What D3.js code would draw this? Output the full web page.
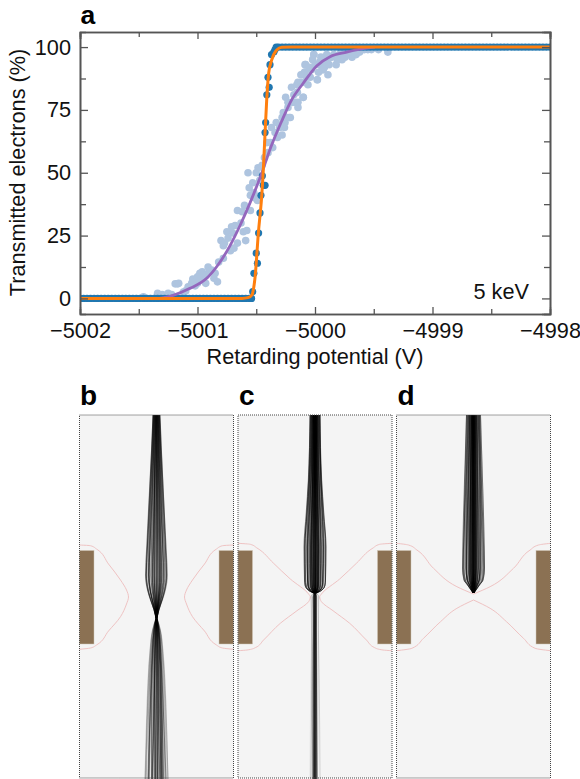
<!DOCTYPE html>
<html>
<head>
<meta charset="utf-8">
<script src="https://cdn.jsdelivr.net/npm/d3@7"></script>
<style>
  body { margin: 0; background: #fff; }
  text { font-family: "Liberation Sans", Arial, sans-serif; fill: #111; }
</style>
</head>
<body>
<div id="chart"></div>
<script>
// panel a: retarding potential offsets from -5000 V, transmission in %
const lightX = [-1.46,-1.34,-1.34,-1.25,-1.19,-1.17,-1.16,-1.12,-1.08,-1.05,-1.04,-1.0,-1.0,-0.98,-0.96,-0.95,-0.93,-0.91,-0.88,-0.85,-0.83,-0.82,-0.78,-0.8,-0.78,-0.77,-0.75,-0.72,-0.71,-0.7,-0.66,-0.66,-0.62,-0.61,-0.6,-0.59,-0.58,-0.55,-0.55,-0.53,-0.57,-0.51,-0.49,-0.485,-0.5,-0.45,-0.4,-0.41,-0.37,-0.34,-0.32,-0.3,-0.28,-0.24,-0.27,-0.23,-0.21,-0.28,-0.255,-0.23,-0.22,-0.2,-0.19,-0.17,-0.155,-0.145,-0.145,-0.145,-0.12,-0.1,-0.1,-0.1,-0.09,-0.085,-0.085,-0.08,-0.06,-0.04,-0.03,-0.01,-0.01,0,0.02,0.02,0.04,0.04,0.06,0.06,0.07,0.1,0.11,0.14,0.18,0.21,0.23,0.255,0.29,0.315,0.35,0.38,0.45,0.48,0.54,0.62,
  -1.3,-1.22,-1.1,-1.02,-0.97,-0.93,-0.9,-0.86,-0.74,-0.69,-0.68,-0.63,-0.56,-0.52,-0.47,-0.43,-0.38,-0.36,-0.33,-0.26,-0.25,-0.18,-0.15,-0.12,-0.07,-0.05,-0.02,0.03,0.05,0.08,0.09,0.12,0.13,0.16,0.19,0.22,0.27,0.31,0.42];
const lightY = [0.6,1,2,2,5.8,5.8,6,2.5,4.6,6,7.7,8.6,6,10,10.6,9.4,6,12.5,11.3,10,6.6,14.5,16,23,21,22,26.5,19,28.5,26,22,35,34.5,26.5,37,23,27,35,41,46,50,40,39,52,50,53,58,62,68,66,64,68,65,72,74,78,72,72,70,76,72,84,78,78,85,76,86,78,86,80,86,80,90,90,93,93,85,88,91,97,97,93,87,87,94,93,91,95,91,97,89,96,93,96,95,96,97,96,97,98,99,99,99,98,
  1.5,1.5,3,5,8,9,10.5,8,24,20,29,30,44,42,47,56,62,60,70,68,80,81,82,89,88,92,95,90,96,92,94,93,96,97,95,98,98,98,99];

const darkX = [-2,-1.97,-1.94,-1.91,-1.88,-1.85,-1.82,-1.79,-1.76,-1.73,-1.7,-1.67,-1.64,-1.61,-1.58,-1.55,-1.52,-1.49,-1.46,-1.43,-1.4,-1.37,-1.34,-1.31,-1.28,-1.25,-1.22,-1.19,-1.16,-1.13,-1.1,-1.07,-1.04,-1.01,-0.98,-0.95,-0.92,-0.89,-0.86,-0.83,-0.8,-0.77,-0.74,-0.71,-0.68,-0.65,-0.62,-0.59,-0.56,-0.54,
  -0.53,-0.52,-0.49,-0.5,-0.48,-0.468,-0.46,-0.44,-0.425,-0.448,-0.425,-0.42,-0.41,-0.39,-0.4,-0.383,-0.37,-0.35,-0.34,
  -0.33,-0.31,-0.28,-0.25,-0.22,-0.19,-0.16,-0.13,-0.1,-0.07,-0.04,-0.01,0.02,0.05,0.08,0.11,0.14,0.17,0.2,0.23,0.26,0.29,0.32,0.35,0.38,0.41,0.44,0.47,0.5,0.53,0.56,0.59,0.62,0.65,0.68,0.71,0.74,0.77,0.8,0.83,0.86,0.89,0.92,0.95,0.98,1.01,1.04,1.07,1.1,1.13,1.16,1.19,1.22,1.25,1.28,1.31,1.34,1.37,1.4,1.43,1.46,1.49,1.52,1.55,1.58,1.61,1.64,1.67,1.7,1.73,1.76,1.79,1.82,1.85,1.88,1.91,1.94,1.97,2];
const darkY = [0,0,0,0,0,0,0,0,0,0,0,0,0,0,0,0,0,0,0,0,0,0,0,0,0,0,0,0,0,0,0,0,0,0,0,0,0,0,0,0,0,0,0,0,0,0,0,0,0,0,
  2.7,10,14,18,26,34,41,45,45,48.8,66,70,81,84,88,93,97,98,99,
  100,100,100,100,100,100,100,100,100,100,100,100,100,100,100,100,100,100,100,100,100,100,100,100,100,100,100,100,100,100,100,100,100,100,100,100,100,100,100,100,100,100,100,100,100,100,100,100,100,100,100,100,100,100,100,100,100,100,100,100,100,100,100,100,100,100,100,100,100,100,100,100,100,100,100,100,100,100,100,100,100,100,100];

const orangeX = [-2,-0.62,-0.57,-0.536,-0.528,-0.51,-0.482,-0.454,-0.443,-0.425,-0.411,-0.394,-0.369,-0.326,-0.283,-0.2,2];
const orangeY = [0,0,0.3,1.4,2.7,8.5,26,40.4,48.3,65.8,79,89.7,94.8,98.8,99.9,100,100];
const purpleX = [-1.32,-1.208,-1.064,-0.922,-0.826,-0.723,-0.638,-0.553,-0.468,-0.369,-0.284,-0.199,-0.102,0.014,0.128,0.27,0.383,0.51];
const purpleY = [0,1.2,4,8,13.3,21,29,38,48,61,70.5,79,85.5,92.5,96.2,98,99.2,100];

const xMajor = [-5002,-5001,-5000,-4999,-4998];
const xMinor = [-5001.5,-5000.5,-4999.5,-4998.5];
const yMajor = [0,25,50,75,100];
const yMinor = [12.5,37.5,62.5,87.5];

// panels b, c, d: beam half widths and field line outlines, distance from the panel centre / top
const bBeamY = [0,35,85,135,160,175,185,195,203,215,235,265,305,364];
const bBeamW = [3.5,5,7.5,10,11,9,6,2.5,0.5,4,6.5,8.5,10,11.5];
const bFracTop = [-1,-0.94,-0.9,-0.82,-0.76,-0.71,-0.66,-0.58,-0.53,-0.47,-0.42,-0.36,-0.31,-0.27,-0.21,-0.17,-0.12,-0.08,-0.03,0.02,0.06,0.11,0.15,0.2,0.24,0.3,0.34,0.39,0.45,0.5,0.56,0.61,0.68,0.73,0.8,0.86,0.93,1];
const bFracBottom = [-1,-0.96,-0.9,-0.85,-0.78,-0.7,-0.64,-0.6,-0.52,-0.44,-0.38,-0.33,-0.25,-0.2,-0.14,-0.1,-0.05,0,0.04,0.09,0.13,0.19,0.23,0.28,0.35,0.4,0.46,0.49,0.55,0.62,0.67,0.72,0.77,0.83,0.88,0.95,1];
const bFieldW = [77,66,60,48,36,30,28,30,36,48,60,66,77];
const bFieldY = [130,130.7,134,149,165,175,182,189,201.7,216,230,233,234.3];

const cBeamY = [0,65,98,132,165,170,175,178,182,195,215,265,364];
const cBeamW = [5,6.7,8.8,11,10.5,10,7,1.5,4,3.8,3.8,4.5,5];
const cFracTop = [-1,-0.93,-0.88,-0.8,-0.74,-0.7,-0.63,-0.58,-0.52,-0.48,-0.43,-0.4,-0.36,-0.33,-0.3,-0.27,-0.24,-0.21,-0.18,-0.15,-0.12,-0.1,-0.07,-0.05,-0.02,0,0.03,0.05,0.08,0.1,0.13,0.16,0.19,0.22,0.25,0.28,0.31,0.35,0.38,0.42,0.47,0.51,0.57,0.62,0.69,0.75,0.82,0.9,0.96,1];
const cFracBottom = [-1,-0.88,-0.55,-0.47,-0.41,-0.36,-0.3,-0.25,-0.2,-0.16,-0.12,-0.08,-0.05,-0.02,0.01,0.04,0.07,0.11,0.15,0.19,0.24,0.29,0.35,0.42,0.5,0.88,1];

const dBeamY = [0,49,99,135,153,165,170,175,178];
const dBeamW = [7,8.5,10,10.8,11,9.5,6,2.5,0.4];
const dFrac = [-1,-0.92,-0.85,-0.78,-0.72,-0.66,-0.6,-0.55,-0.5,-0.45,-0.41,-0.37,-0.33,-0.3,-0.27,-0.24,-0.21,-0.19,-0.16,-0.14,-0.12,-0.1,-0.08,-0.06,-0.04,-0.02,0,0.02,0.04,0.06,0.08,0.1,0.12,0.15,0.17,0.2,0.23,0.26,0.29,0.32,0.36,0.4,0.44,0.49,0.54,0.6,0.66,0.71,0.78,0.86,0.93,1];

// c and d field lines, one half is mirrored
const cFieldW = [77,64.7,58,41.7,24.7,6.4,4.7,6.4,18,34.7,51.4,59.7,68,77];
const cFieldY = [128.3,129.3,133,148,164,179,181.7,186.7,195.7,208.3,225,232.7,235,235.7];
const dUpperW = [77,65,56.6,40,16.6,0];
const dUpperY = [128.3,130,135,153.3,171.7,179];
const dLowerW = [0,16.6,33,50,61.6,77];
const dLowerY = [185,193.3,206.7,223.3,233.3,235.7];

// paths are not all equally dark and swap places a little on the way down
const rayOpacity = [1,0.45,0.8,0.3,0.95,0.55,0.7];
const raySwapA = [2,-1,3,-2,1,-3,0,2,-2];
const raySwapB = [-3,4,-1,2,-4,1,3,-2,5,-5];

// Set dimensions
const margin = { top: 32, right: 30, bottom: 465, left: 80 },
    width = 580 - margin.left - margin.right,
    height = 779 - margin.top - margin.bottom;

const svg = d3.select("#chart")
    .append("svg")
    .attr("width", 580)
    .attr("height", 779);

const axisColor = "#555";
const fontSize = 21.7;
const g = svg.append("g").attr("transform", `translate(${margin.left},${margin.top})`);

const x = d3.scaleLinear().domain([-5002, -4998]).range([0, width]);
const y = d3.scaleLinear().domain([-6.2, 106]).range([height, 0]);

svg.append("defs").append("clipPath").attr("id", "plot-clip")
    .append("rect").attr("width", width).attr("height", height);

const plot = g.append("g").attr("clip-path", "url(#plot-clip)");

plot.selectAll("circle.light")
    .data(lightX.map((v, i) => [v, lightY[i]]))
    .join("circle")
    .attr("class", "light")
    .attr("cx", d => x(d[0] - 5000))
    .attr("cy", d => y(d[1]))
    .attr("r", 3.8)
    .attr("fill", "#aec4df");

plot.selectAll("circle.dark")
    .data(darkX.map((v, i) => [v, darkY[i]]))
    .join("circle")
    .attr("class", "dark")
    .attr("cx", d => x(d[0] - 5000))
    .attr("cy", d => y(d[1]))
    .attr("r", 3.6)
    .attr("fill", "#2077b0");

const fitLine = d3.line()
    .x(d => x(d[0] - 5000))
    .y(d => y(d[1]))
    .curve(d3.curveMonotoneX);

plot.append("path")
    .datum(purpleX.map((v, i) => [v, purpleY[i]]))
    .attr("d", fitLine)
    .attr("fill", "none")
    .attr("stroke", "#9467bd")
    .attr("stroke-width", 2.8);

plot.append("path")
    .datum(orangeX.map((v, i) => [v, orangeY[i]]))
    .attr("d", fitLine)
    .attr("fill", "none")
    .attr("stroke", "#ff7f0e")
    .attr("stroke-width", 3);

// Axes, ticks point inwards on all four sides
function styleAxis(sel) {
    sel.select(".domain").attr("stroke", axisColor).attr("stroke-width", 1.6);
    sel.selectAll("line").attr("stroke", axisColor).attr("stroke-width", 1.3);
    sel.selectAll("text").attr("font-size", fontSize).attr("fill", "#111");
}

const xBottom = g.append("g").attr("transform", `translate(0,${height})`)
    .call(d3.axisBottom(x).tickValues(xMajor).tickSizeInner(-7).tickSizeOuter(0).tickPadding(9).tickFormat(d3.format("d")));
const xBottomMinor = g.append("g").attr("transform", `translate(0,${height})`)
    .call(d3.axisBottom(x).tickValues(xMinor).tickSize(-5).tickFormat(""));
const xTop = g.append("g")
    .call(d3.axisTop(x).tickValues(xMajor).tickSize(-7).tickFormat(""));
const xTopMinor = g.append("g")
    .call(d3.axisTop(x).tickValues(xMinor).tickSize(-5).tickFormat(""));
const yLeft = g.append("g")
    .call(d3.axisLeft(y).tickValues(yMajor).tickSizeInner(-8).tickSizeOuter(0).tickPadding(9));
const yLeftMinor = g.append("g")
    .call(d3.axisLeft(y).tickValues(yMinor).tickSize(-6).tickFormat(""));
const yRight = g.append("g").attr("transform", `translate(${width},0)`)
    .call(d3.axisRight(y).tickValues(yMajor).tickSize(-8).tickFormat(""));
const yRightMinor = g.append("g").attr("transform", `translate(${width},0)`)
    .call(d3.axisRight(y).tickValues(yMinor).tickSize(-6).tickFormat(""));

[xBottom, xBottomMinor, xTop, xTopMinor, yLeft, yLeftMinor, yRight, yRightMinor].forEach(styleAxis);

g.append("text")
    .attr("x", width / 2)
    .attr("y", height + 50)
    .attr("text-anchor", "middle")
    .attr("font-size", fontSize)
    .text("Retarding potential (V)");

g.append("text")
    .attr("transform", `translate(-55,${height / 2 - 0.5}) rotate(-90)`)
    .attr("text-anchor", "middle")
    .attr("font-size", fontSize)
    .text("Transmitted electrons (%)");

g.append("text")
    .attr("x", width - 21)
    .attr("y", height - 15)
    .attr("text-anchor", "end")
    .attr("font-size", fontSize)
    .text("5 keV");

// Panels b, c, d
const panelTop = 415, panelHeight = 363;
const panels = [
    { label: "b", left: 79.5, right: 233.5, waist: 203, beamY: bBeamY, beamW: bBeamW, fracTop: bFracTop, fracBottom: bFracBottom, opacity: 0.7, lineW: 0.5 },
    { label: "c", left: 238, right: 392, waist: 178, beamY: cBeamY, beamW: cBeamW, fracTop: cFracTop, fracBottom: cFracBottom, opacity: 0.75, lineW: 0.55 },
    { label: "d", left: 396.5, right: 550.5, waist: 178, beamY: dBeamY, beamW: dBeamW, fracTop: dFrac, fracBottom: [], opacity: 0.75, lineW: 0.55 }
];

const py = d3.scaleLinear().domain([0, panelHeight]).range([panelTop, panelTop + panelHeight]);

panels.forEach(p => {
    const px = d3.scaleLinear().domain([-77, 77]).range([p.left, p.right]);
    const pg = svg.append("g");

    pg.append("rect")
        .attr("x", px(-77)).attr("y", py(0))
        .attr("width", px(77) - px(-77)).attr("height", py(panelHeight) - py(0))
        .attr("fill", "#f4f4f4");

    // Electrodes
    [[-77, -62.5], [62.5, 77]].forEach(e => {
        pg.append("rect")
            .attr("x", px(e[0])).attr("y", py(135.5))
            .attr("width", px(e[1]) - px(e[0])).attr("height", py(229) - py(135.5))
            .attr("fill", "#8b7153")
            .attr("stroke", "#cfc6b6")
            .attr("stroke-width", 0.5);
    });

    // Field lines
    const drawField = (ws, ys) => {
        [-1, 1].forEach(s => {
            pg.append("path")
                .datum(ws.map((w, i) => [s * w, ys[i]]))
                .attr("d", d3.line().x(d => px(d[0])).y(d => py(d[1])).curve(d3.curveMonotoneY))
                .attr("fill", "none")
                .attr("stroke", "#efc3c3")
                .attr("stroke-width", 1);
        });
    };
    if (p.label === "b") drawField(bFieldW, bFieldY);
    if (p.label === "c") drawField(cFieldW, cFieldY);
    if (p.label === "d") { drawField(dUpperW, dUpperY); drawField(dLowerW, dLowerY); }

    // Electron paths: each one keeps roughly its place inside the beam outline
    const rayLine = d3.line().x(d => px(d[0])).y(d => py(d[1])).curve(d3.curveMonotoneY);
    const beamPts = p.beamY.map((v, i) => [v, p.beamW[i]]);

    const drawRays = (fracs, pts, swap, faintEdge) => {
        const y0 = pts[0][0], y1 = pts[pts.length - 1][0];
        fracs.forEach((f, i) => {
            const other = fracs[Math.max(0, Math.min(fracs.length - 1, i + swap[i % swap.length]))];
            const base = p.opacity * rayOpacity[i % rayOpacity.length];
            pg.append("path")
                .datum(pts.map(d => {
                    const t = (d[0] - y0) / (y1 - y0);
                    return [(f + (other - f) * t) * d[1], d[0]];
                }))
                .attr("d", rayLine)
                .attr("fill", "none")
                .attr("stroke", "#000")
                .attr("stroke-opacity", faintEdge && Math.abs(f) > 0.7 ? base * 0.4 : base)
                .attr("stroke-width", p.lineW);
        });
    };
    const upper = beamPts.filter(d => d[0] <= p.waist);
    drawRays(p.fracTop, upper, raySwapA, false);
    drawRays(p.fracTop, upper, raySwapB, false);
    if (p.fracBottom.length) {
        const lower = beamPts.filter(d => d[0] >= p.waist);
        drawRays(p.fracBottom, lower, raySwapA, true);
        if (p.label === "b") drawRays(p.fracBottom, lower, raySwapB, true);
    }

    pg.append("rect")
        .attr("x", px(-77)).attr("y", py(0))
        .attr("width", px(77) - px(-77)).attr("height", py(panelHeight) - py(0))
        .attr("fill", "none")
        .attr("stroke", "#444")
        .attr("stroke-width", 1)
        .attr("stroke-dasharray", "1,1");

    svg.append("text")
        .attr("x", p.left + (p.label === "b" ? 0.5 : 1))
        .attr("y", 405)
        .attr("font-size", 28)
        .attr("font-weight", "bold")
        .style("fill", "#000")
        .text(p.label);
});

svg.append("text")
    .attr("x", 80.5)
    .attr("y", 24)
    .attr("font-size", 26.5)
    .attr("font-weight", "bold")
    .style("fill", "#000")
    .text("a");
</script>
</body>
</html>
